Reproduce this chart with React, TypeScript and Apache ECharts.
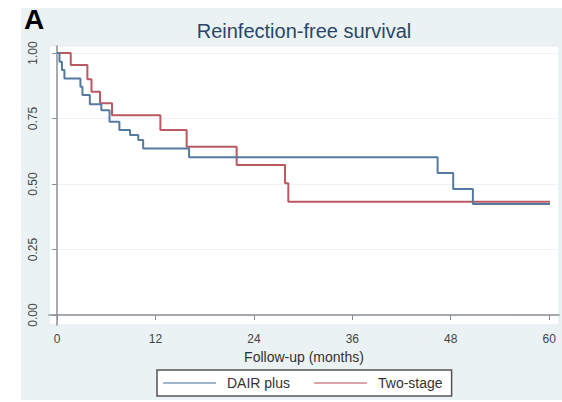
import React, { useEffect, useRef } from "react";
import * as echarts from "echarts";

const dairMonths = [0, 0.3, 0.6, 0.9, 2.85, 3.1, 4.0, 5.4, 6.4, 7.6, 8.9, 9.9, 10.5, 16.1, 46.4, 48.3, 50.7, 60.1];
const dairSurv = [1.0, 0.967, 0.935, 0.903, 0.871, 0.84, 0.805, 0.782, 0.738, 0.706, 0.687, 0.668, 0.636, 0.602, 0.542, 0.481, 0.424, 0.424];

const twoMonths = [0, 1.67, 3.7, 4.2, 5.24, 6.7, 12.6, 15.8, 21.9, 27.8, 28.2, 60.1];
const twoSurv = [1.0, 0.954, 0.9, 0.852, 0.808, 0.763, 0.706, 0.642, 0.573, 0.503, 0.432, 0.432];

const xTicks = [0, 12, 24, 36, 48, 60];
const yTicks = [0, 0.25, 0.5, 0.75, 1.0];

const seriesNames = ["DAIR plus", "Two-stage"];
const colors = ["#55799f", "#bb5860"];
const legendColors = ["#9fb6cf", "#dba6ab"];

const FONT = "Liberation Sans, Arial, sans-serif";

export default function App() {
  const ref = useRef<HTMLDivElement>(null);
  useEffect(() => {
    if (!ref.current) return;
    const chart = echarts.init(ref.current, undefined, { renderer: "svg" });
    const toPairs = (xs: number[], ys: number[]) => xs.map((x, i) => [x, ys[i]]);
    chart.setOption({
      animation: false,
      backgroundColor: "#ffffff",
      textStyle: { fontFamily: FONT },
      graphic: [
        {
          type: "rect",
          z: -10,
          silent: true,
          shape: { x: 21, y: 8, width: 541, height: 392 },
          style: { fill: "#eaf2f3" },
        },
        {
          type: "text",
          x: 24,
          y: 5,
          z: 10,
          style: { text: "A", font: `bold 28px ${FONT}`, fill: "#000" },
        },
        {
          type: "text",
          x: 304,
          y: 31,
          z: 10,
          style: {
            text: "Reinfection-free survival",
            font: `20px ${FONT}`,
            fill: "#2a4666",
            textAlign: "center",
            textVerticalAlign: "middle",
          },
        },
      ],
      grid: {
        left: 49,
        top: 46,
        right: 3,
        bottom: 77,
        show: true,
        backgroundColor: "#ffffff",
        borderColor: "#e4eaee",
        borderWidth: 1,
      },
      legend: {
        left: 157,
        top: 370,
        padding: [6, 9, 6, 6],
        backgroundColor: "#ffffff",
        borderColor: "#555555",
        borderWidth: 1.5,
        borderRadius: 0,
        itemWidth: 53,
        itemHeight: 14,
        itemGap: 24,
        textStyle: { fontSize: 14, color: "#333", fontFamily: FONT, padding: [0, 0, 0, 6] },
        data: seriesNames.map((n, i) => ({
          name: n,
          icon: "path://M0,6 L50,6 L50,8 L0,8 Z",
          itemStyle: { color: legendColors[i] },
          lineStyle: { color: legendColors[i] },
        })),
      },
      xAxis: {
        type: "value",
        min: -0.98,
        max: 61.2,
        name: "Follow-up (months)",
        nameLocation: "middle",
        nameGap: 22,
        nameTextStyle: { fontSize: 14, color: "#333", fontFamily: FONT },
        axisLine: { show: true, lineStyle: { color: "#8a8f94", width: 1.5 } },
        axisTick: { show: true, length: 5, customValues: xTicks, lineStyle: { color: "#8a8f94" } },
        axisLabel: { customValues: xTicks, fontSize: 12, color: "#444", margin: 8 },
        splitLine: { show: false },
      },
      yAxis: {
        type: "value",
        min: -0.038,
        max: 1.027,
        axisLine: { show: true, lineStyle: { color: "#8a8f94", width: 1.5 } },
        axisTick: { show: true, length: 5, customValues: yTicks, lineStyle: { color: "#8a8f94" } },
        axisLabel: {
          customValues: yTicks,
          rotate: 90,
          fontSize: 12,
          color: "#444",
          margin: 10,
          formatter: (v: number) => v.toFixed(2),
        },
        splitLine: { show: true, lineStyle: { color: "#edf3f7", width: 1 } },
      },
      series: [
        {
          name: seriesNames[0],
          type: "line",
          step: "end",
          symbol: "none",
          data: toPairs(dairMonths, dairSurv),
          lineStyle: { color: colors[0], width: 2 },
          itemStyle: { color: colors[0] },
          z: 3,
        },
        {
          name: seriesNames[1],
          type: "line",
          step: "end",
          symbol: "none",
          data: toPairs(twoMonths, twoSurv),
          lineStyle: { color: colors[1], width: 2 },
          itemStyle: { color: colors[1] },
          z: 2,
        },
      ],
    });
    return () => chart.dispose();
  }, []);
  return (
    <div
      ref={ref}
      style={{ position: "fixed", left: 0, top: 0, width: 562, height: 402 }}
    />
  );
}
